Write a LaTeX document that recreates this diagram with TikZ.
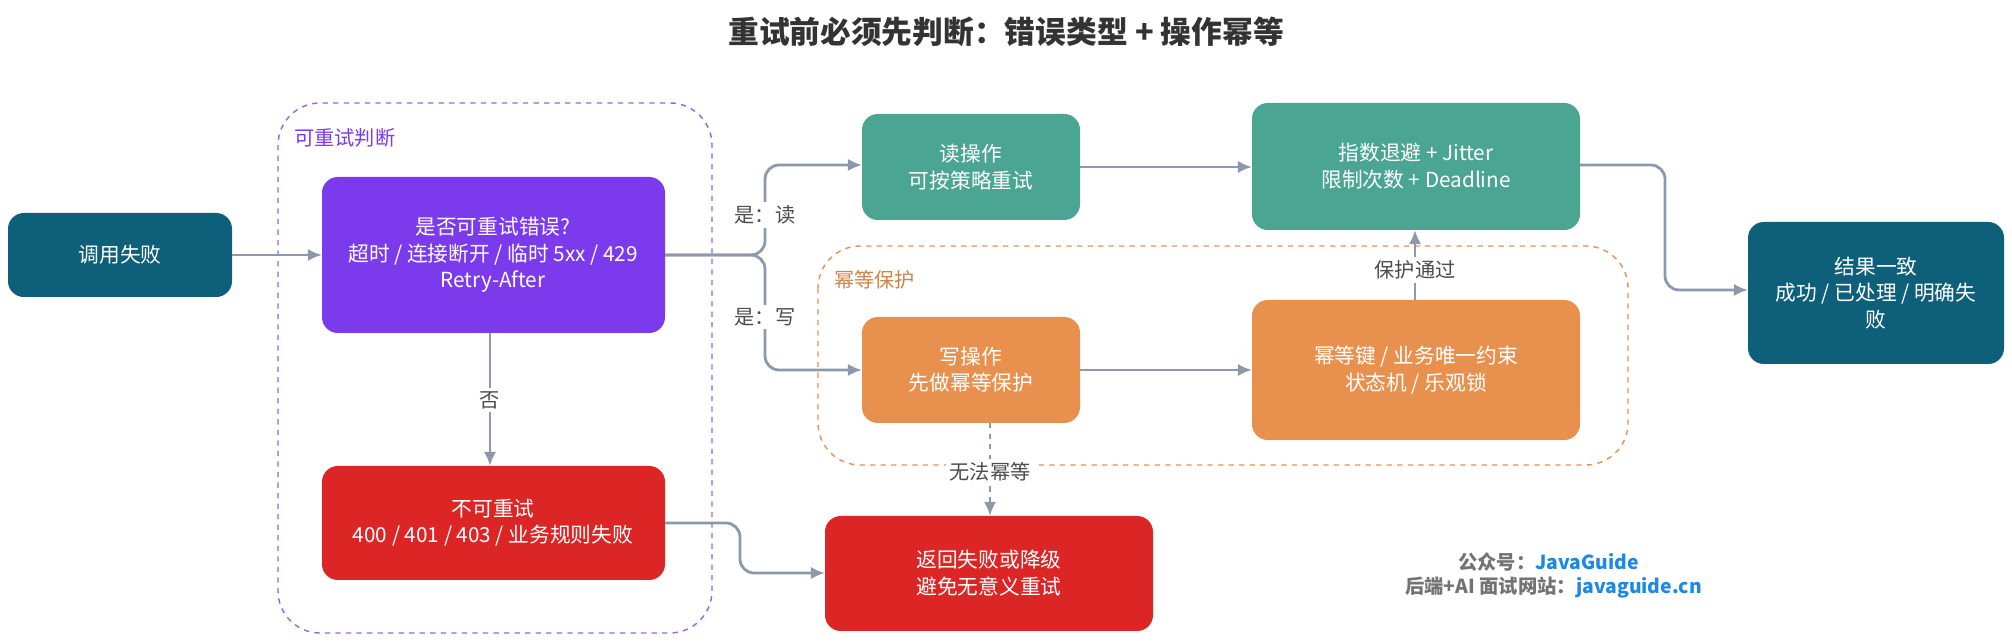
\documentclass[tikz,border=0pt]{standalone}
\usepackage{fontspec}
\setmainfont{Noto Sans CJK SC}
\usetikzlibrary{arrows.meta}
\definecolor{dteal}{HTML}{0E5F7A}
\definecolor{purp}{HTML}{7C3AED}
\definecolor{redc}{HTML}{DC2626}
\definecolor{teal}{HTML}{4AA593}
\definecolor{oran}{HTML}{E8914F}
\definecolor{conn}{HTML}{8D99AB}
\definecolor{jblue}{HTML}{1E88E5}
\begin{document}
\begin{tikzpicture}[x=0.02cm,y=-0.02cm,
  box/.style={draw=none,rounded corners=9pt,text=white,align=center,font=\fontsize{11.8}{15}\selectfont,inner sep=0pt},
  arr/.style={draw=conn,line width=1.6pt,-{Latex[length=8pt,width=7pt]},rounded corners=8pt},
  lbl/.style={fill=white,text=black!70,font=\fontsize{11.5}{13}\selectfont,inner sep=2pt},
  grp/.style={dashed,line width=0.8pt,rounded corners=24pt}]
\useasboundingbox[fill=white] (0,0) rectangle (2012,644);
\node[font=\bfseries\fontsize{17.5}{20}\selectfont,text=black!80] (title) at (1006,32) {重试前必须先判断：错误类型 + 操作幂等};
% groups
\draw[grp,draw=purp!80] (278,103) rectangle (712,633);
\node[text=purp,anchor=west,font=\fontsize{11.5}{13}\selectfont] (g1) at (288,138) {可重试判断};
\draw[grp,draw=oran] (818,246) rectangle (1628,465);
\node[text=oran!90!black,anchor=west,font=\fontsize{11.5}{13}\selectfont] (g2) at (828,280) {幂等保护};
% nodes
\fill[dteal,rounded corners=9pt] (8,213) rectangle (232,297);
\node[box] (fail) at (120,255) {调用失败};
\fill[purp,rounded corners=9pt] (322,177) rectangle (665,333);
\node[box] (retry) at (493,255) {是否可重试错误?\\超时 / 连接断开 / 临时 5xx / 429\\Retry-After};
\fill[redc,rounded corners=9pt] (322,466) rectangle (665,580);
\node[box] (no) at (493,523) {不可重试\\400 / 401 / 403 / 业务规则失败};
\fill[teal,rounded corners=9pt] (862,114) rectangle (1080,220);
\node[box] (read) at (971,167) {读操作\\可按策略重试};
\fill[teal,rounded corners=9pt] (1252,103) rectangle (1580,230);
\node[box] (exp) at (1416,166) {指数退避 + Jitter\\限制次数 + Deadline};
\fill[oran,rounded corners=9pt] (862,317) rectangle (1080,423);
\node[box] (write) at (971,370) {写操作\\先做幂等保护};
\fill[oran,rounded corners=9pt] (1252,300) rectangle (1580,440);
\node[box] (idem) at (1416,370) {幂等键 / 业务唯一约束\\状态机 / 乐观锁};
\fill[dteal,rounded corners=9pt] (1748,222) rectangle (2004,364);
\node[box] (res) at (1876,293) {结果一致\\成功 / 已处理 / 明确失\\败};
\fill[redc,rounded corners=9pt] (825,516) rectangle (1153,631);
\node[box] (ret) at (989,573) {返回失败或降级\\避免无意义重试};
% anchors
\coordinate (fR) at (232,255);
\coordinate (rL) at (322,255);
\coordinate (rR) at (665,255);
\coordinate (rB) at (490,333);
\coordinate (nT) at (490,466);
\coordinate (nR) at (665,523);
\coordinate (readL) at (862,165);
\coordinate (readR) at (1080,167);
\coordinate (expL) at (1252,167);
\coordinate (expR) at (1580,165);
\coordinate (expB) at (1415,230);
\coordinate (wL) at (862,370);
\coordinate (wR) at (1080,370);
\coordinate (wB) at (990,423);
\coordinate (iL) at (1252,370);
\coordinate (iT) at (1415,300);
\coordinate (resL) at (1748,290);
\coordinate (retT) at (990,516);
\coordinate (retL) at (825,573);
% connectors
\draw[arr] (fR) -- (rL);
\draw[arr] (rR) -- (765,255) -- (765,165) -- (readL);
\draw[arr] (rR) -- (765,255) -- (765,370) -- (wL);
\node[lbl] (l1) at (765,215) {是：读};
\node[lbl] (l2) at (765,317) {是：写};
\draw[arr] (readR) -- (expL);
\draw[arr] (wR) -- (iL);
\draw[arr] (iT) -- (expB);
\node[lbl] (l3) at (1415,270) {保护通过};
\draw[arr] (expR) -- (1665,165) -- (1665,290) -- (resL);
\draw[arr] (rB) -- (nT);
\node[lbl] (l4) at (490,400) {否};
\draw[arr,dashed] (wB) -- (retT);
\node[lbl] (l5) at (990,472) {无法幂等};
\draw[arr] (nR) -- (740,523) -- (740,573) -- (retL);
% watermark
\node[anchor=east,font=\bfseries\fontsize{11}{12}\selectfont,text=black!55] (w1) at (1645,562) {公众号：\textcolor{jblue}{JavaGuide}};
\node[anchor=east,font=\bfseries\fontsize{11}{12}\selectfont,text=black!55] (w2) at (1708,588) {后端+AI 面试网站：\textcolor{jblue}{javaguide.cn}};
\end{tikzpicture}
\end{document}
